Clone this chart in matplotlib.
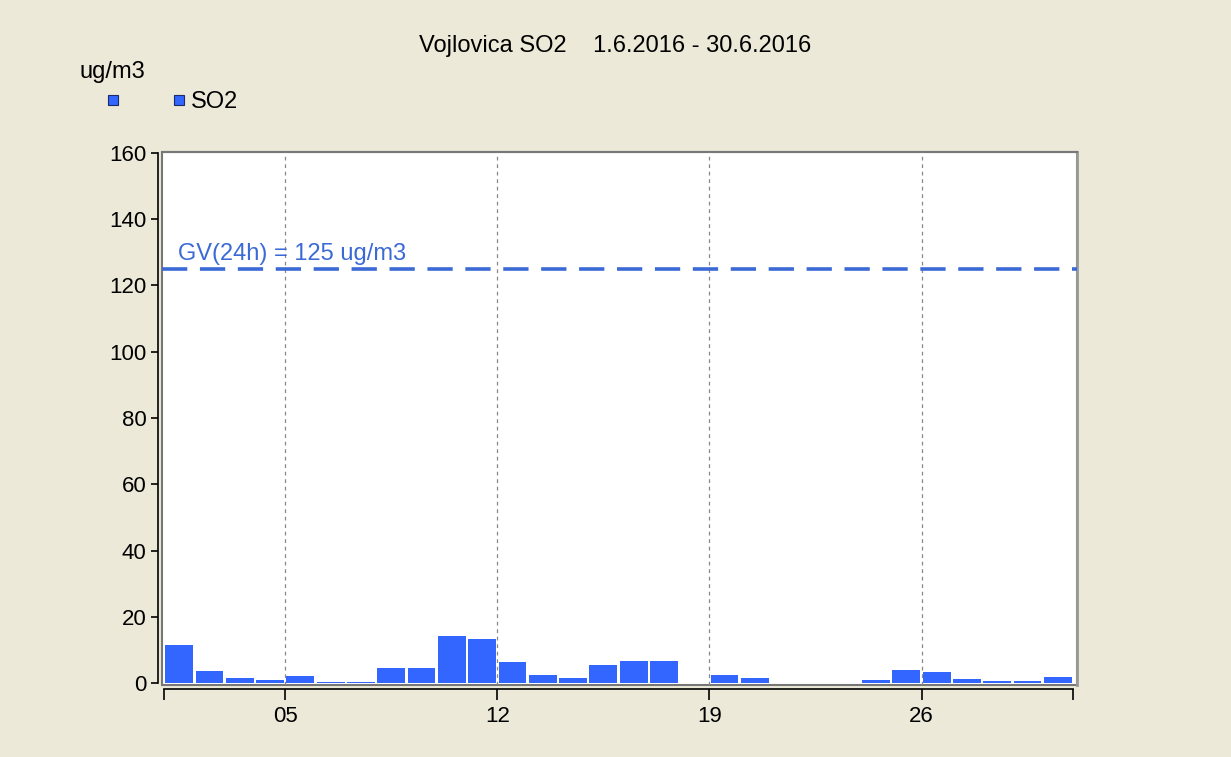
import numpy as np
import matplotlib.pyplot as plt
from matplotlib.lines import Line2D

plt.rcParams['font.family'] = ['Liberation Sans', 'DejaVu Sans']

# Daily SO2 concentrations, June 2016 (ug/m3); NaN = no data
days = np.arange(1, 31)
so2 = [11.4, 3.7, 1.6, 0.8, 2.0, 0.4, 0.4, 4.4, 4.4, 14.2,
       13.4, 6.2, 2.5, 1.6, 5.3, 6.5, 6.5, np.nan, 2.5, 1.6,
       np.nan, np.nan, np.nan, 0.8, 4.0, 3.2, 1.2, 0.5, 0.5, 1.9]
limit_value = 125
tick_days = [5, 12, 19, 26]
tick_labels = ['05', '12', '19', '26']

bg = '#ECE9D8'
bar_color = '#3366FF'
limit_color = '#3B6AD6'

fig = plt.figure(figsize=(12.31, 7.57), dpi=100, facecolor=bg)
W, H = 1231, 757
ax = fig.add_axes([162 / W, 1 - 685 / H, (1077 - 162) / W, (685 - 152) / H])

# each day's bar spans the day, with a small gap on the right
ax.bar(days + 0.04, so2, width=0.92, align='edge', color=bar_color,
       linewidth=0, zorder=2)

# limit value line
ax.axhline(limit_value, color=limit_color, linewidth=2.6,
           dashes=(7, 3.5), zorder=3)
ax.text(1.47, limit_value + 1.3, 'GV(24h) = 125 ug/m3', color=limit_color,
        fontsize=17, ha='left', va='bottom', zorder=3)

ax.set_xlim(1 - 2 / 30.3, 31 + 4 / 30.3)
ax.set_ylim(-0.6, 160.3)

ax.set_xticks(tick_days)
ax.set_xticklabels(tick_labels)
ax.set_xticks([1, 31], minor=True)
ax.set_yticks(np.arange(0, 161, 20))

ax.tick_params(axis='x', which='both', length=8, width=1.2, labelsize=16, pad=4)
ax.tick_params(axis='y', length=5, width=1.2, labelsize=16, pad=3)

ax.grid(True, axis='x', which='major', color='#888888',
        linestyle=(0, (3, 3)), linewidth=0.9)
ax.set_axisbelow(False)

ax.spines['left'].set_position(('outward', 3))
ax.spines['bottom'].set_position(('outward', 3))
ax.spines['left'].set_bounds(0, 160)
ax.spines['bottom'].set_bounds(1, 31)
ax.spines['left'].set_linewidth(1.2)
ax.spines['bottom'].set_linewidth(1.2)
ax.spines['top'].set_color('#777777')
ax.spines['right'].set_color('#999999')
ax.spines['top'].set_linewidth(1.5)
ax.spines['right'].set_linewidth(2)
ax.patch.set_edgecolor('#777777')
ax.patch.set_linewidth(1.5)

fig.text(0.5, 1 - 46 / H, 'Vojlovica SO2    1.6.2016 - 30.6.2016',
         ha='center', va='center', fontsize=17)
fig.text(80 / W, 1 - 72 / H, 'ug/m3', ha='left', va='center', fontsize=17)

handles = [Line2D([], [], marker='s', linestyle='none', markersize=7,
                  markerfacecolor=bar_color, markeredgecolor='#1a2a6a',
                  markeredgewidth=0.8) for _ in range(2)]
fig.legend(handles, ['', 'SO2'], ncol=2, frameon=False, fontsize=17,
           loc='center left', bbox_to_anchor=(106 / W, 1 - 102 / H),
           handlelength=0.6, handletextpad=0.2, columnspacing=2.0,
           borderaxespad=0, borderpad=0)

fig.savefig('out.png', dpi=100, facecolor=bg)
